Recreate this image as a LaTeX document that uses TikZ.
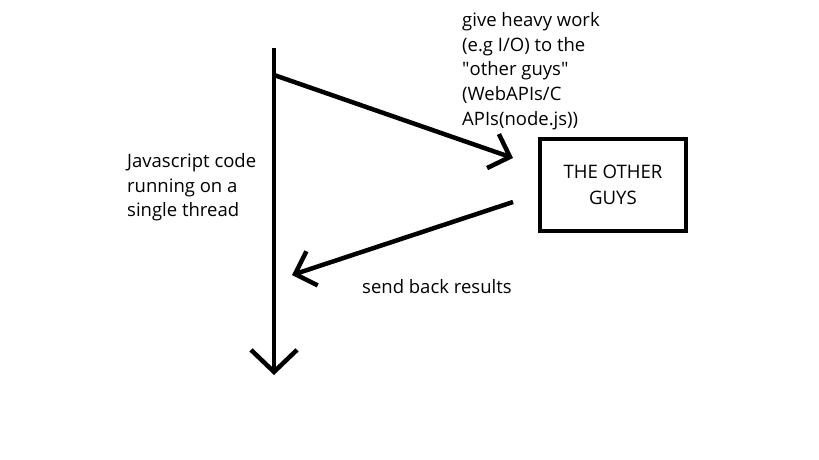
\documentclass[tikz,border=0pt]{standalone}
\usepackage{fontspec}
\setmainfont{Open Sans}
\usetikzlibrary{arrows.meta}
\tikzstyle{guys} = [rectangle, draw=black, line width=4.5pt, minimum width=146pt, minimum height=92pt, align=center, font=\fontsize{18.6}{26}\selectfont]
\tikzstyle{note} = [align=left, inner sep=0pt, font=\fontsize{18.5}{24.8}\selectfont]
\tikzstyle{arrow} = [line width=4.5pt, -{Straight Barb[length=18pt, width=36pt]}]
\tikzstyle{bigarrow} = [line width=4.5pt, -{Straight Barb[length=22pt, width=46pt]}]

\begin{document}
\begin{tikzpicture}[x=1pt, y=-1pt]
    \useasboundingbox (0,0) rectangle (819,460);
    \coordinate (top) at (274,48);
    \coordinate (bottom) at (274,375);
    \coordinate (send) at (274,75);
    \coordinate (give) at (513,158);
    \coordinate (back) at (513,202);
    \coordinate (recv) at (292,275);
    \node (other) [guys] at (613,185) {THE OTHER\\GUYS};
    \node (heavy) [note, anchor=north west] at (462,12)
    {give heavy work\\(e.g I/O) to the\\\textquotedbl other guys\textquotedbl\\(WebAPIs/C\\APIs(node.js))};
    \node (thread) [note, anchor=north west] at (127,153)
    {Javascript code\\running on a\\single thread};
    \node (results) [note, anchor=base west] at (362,293) {send back results};

    \draw [bigarrow] (top) -- (bottom);
    \draw [arrow] (send) -- (give);
    \draw [arrow] (back) -- (recv);
\end{tikzpicture}
\end{document}
